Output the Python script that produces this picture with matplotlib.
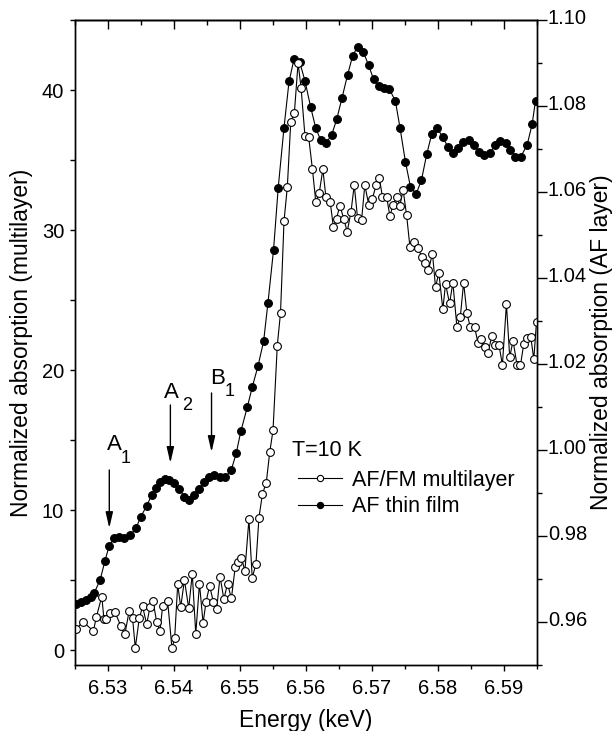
import matplotlib
matplotlib.use("Agg")
import matplotlib.pyplot as plt
import matplotlib.transforms as mtransforms
from matplotlib.ticker import MultipleLocator, FormatStrFormatter
from matplotlib.lines import Line2D

plt.rcParams['font.family'] = ['Liberation Sans', 'DejaVu Sans']

# AF thin film (right axis)
energy_film = [6.52510, 6.52586, 6.52662, 6.52738, 6.52790, 6.52881, 6.52954, 6.53018, 6.53091, 6.53170,
               6.53246, 6.53332, 6.53423, 6.53499, 6.53586, 6.53662, 6.53727, 6.53788, 6.53864, 6.53931,
               6.54007, 6.54083, 6.54159, 6.54235, 6.54311, 6.54387, 6.54463, 6.54539, 6.54615, 6.54691,
               6.54776, 6.54868, 6.54944, 6.55015, 6.55111, 6.55187, 6.55274, 6.55360, 6.55426, 6.55510,
               6.55581, 6.55669, 6.55745, 6.55821, 6.55905, 6.55989, 6.56072, 6.56151, 6.56227, 6.56308,
               6.56392, 6.56468, 6.56547, 6.56632, 6.56708, 6.56784, 6.56871, 6.56951, 6.57027, 6.57103,
               6.57179, 6.57266, 6.57357, 6.57429, 6.57510, 6.57586, 6.57672, 6.57753, 6.57833, 6.57909,
               6.57985, 6.58076, 6.58153, 6.58229, 6.58305, 6.58381, 6.58472, 6.58548, 6.58624, 6.58700,
               6.58787, 6.58874, 6.58950, 6.59030, 6.59102, 6.59178, 6.59259, 6.59354, 6.59430, 6.59482]
abs_film = [0.9643, 0.9647, 0.9651, 0.9659, 0.9667, 0.9698, 0.9742, 0.9777, 0.9795, 0.9797,
            0.9795, 0.9802, 0.9818, 0.9845, 0.9870, 0.9895, 0.9911, 0.9926, 0.9932, 0.9930,
            0.9923, 0.9909, 0.9891, 0.9884, 0.9895, 0.9909, 0.9926, 0.9938, 0.9942, 0.9938,
            0.9937, 0.9953, 0.9992, 1.0044, 1.0099, 1.0146, 1.0195, 1.0253, 1.0343, 1.0465,
            1.0610, 1.0750, 1.0857, 1.0909, 1.0903, 1.0857, 1.0798, 1.0748, 1.0720, 1.0714,
            1.0733, 1.0769, 1.0818, 1.0872, 1.0916, 1.0938, 1.0926, 1.0895, 1.0862, 1.0847,
            1.0842, 1.0839, 1.0812, 1.0748, 1.0670, 1.0612, 1.0595, 1.0628, 1.0688, 1.0735,
            1.0748, 1.0729, 1.0704, 1.0690, 1.0702, 1.0717, 1.0721, 1.0709, 1.0694, 1.0686,
            1.0691, 1.0709, 1.0719, 1.0713, 1.0698, 1.0682, 1.0682, 1.0709, 1.0757, 1.0812]

# AF/FM multilayer (left axis)
energy_multi = [6.52521, 6.52620, 6.52779, 6.52825, 6.52906, 6.52939, 6.52977, 6.53027, 6.53103, 6.53195,
                6.53256, 6.53322, 6.53373, 6.53414, 6.53475, 6.53525, 6.53586, 6.53636, 6.53684, 6.53738,
                6.53788, 6.53829, 6.53905, 6.53970, 6.54011, 6.54057, 6.54103, 6.54159, 6.54224, 6.54278,
                6.54331, 6.54387, 6.54442, 6.54487, 6.54541, 6.54597, 6.54647, 6.54699, 6.54757, 6.54813,
                6.54871, 6.54929, 6.54977, 6.55023, 6.55076, 6.55137, 6.55187, 6.55243, 6.55289, 6.55342,
                6.55400, 6.55452, 6.55502, 6.55567, 6.55616, 6.55669, 6.55719, 6.55771, 6.55826, 6.55882,
                6.55928, 6.55986, 6.56042, 6.56100, 6.56151, 6.56202, 6.56258, 6.56303, 6.56369, 6.56418,
                6.56465, 6.56516, 6.56574, 6.56627, 6.56684, 6.56734, 6.56784, 6.56845, 6.56894, 6.56954,
                6.57008, 6.57068, 6.57114, 6.57160, 6.57225, 6.57274, 6.57322, 6.57377, 6.57426, 6.57475,
                6.57528, 6.57578, 6.57646, 6.57697, 6.57760, 6.57809, 6.57859, 6.57920, 6.57966, 6.58016,
                6.58077, 6.58118, 6.58179, 6.58229, 6.58290, 6.58341, 6.58392, 6.58442, 6.58494, 6.58559,
                6.58609, 6.58661, 6.58711, 6.58761, 6.58822, 6.58874, 6.58928, 6.58980, 6.59041, 6.59091,
                6.59141, 6.59202, 6.59254, 6.59304, 6.59354, 6.59411, 6.59456, 6.59497]
abs_multi = [1.50, 2.02, 1.36, 2.38, 3.82, 2.21, 2.19, 2.64, 2.74, 1.71,
             1.12, 2.82, 2.26, 0.16, 2.26, 3.11, 1.84, 3.04, 3.48, 2.00,
             1.36, 3.14, 3.48, 0.12, 0.84, 4.68, 3.07, 5.00, 2.98, 5.46,
             1.14, 4.74, 1.93, 3.45, 4.59, 3.45, 2.91, 5.25, 3.64, 4.74,
             3.68, 5.93, 6.29, 6.59, 5.66, 9.34, 5.16, 6.14, 9.46, 11.14,
             11.96, 14.12, 15.68, 21.75, 24.09, 30.64, 33.06, 37.70, 38.36, 41.93,
             40.14, 36.75, 36.66, 34.34, 32.00, 32.62, 34.34, 32.38, 32.02, 30.18,
             30.82, 31.75, 30.81, 29.88, 31.29, 33.21, 30.84, 30.71, 33.21, 31.79,
             32.24, 33.24, 33.75, 32.38, 32.36, 31.00, 31.79, 32.36, 31.75, 32.86,
             31.04, 28.79, 29.16, 28.71, 28.07, 27.62, 27.14, 28.32, 25.91, 26.95,
             24.34, 26.14, 24.76, 26.24, 23.09, 23.76, 26.24, 24.05, 23.05, 23.05,
             21.95, 22.19, 21.66, 21.24, 22.45, 21.79, 21.79, 20.36, 24.71, 20.91,
             22.09, 20.36, 20.36, 21.86, 22.26, 22.34, 20.76, 23.45]

series_labels = ["AF/FM multilayer", "AF thin film"]
legend_title = "T=10 K"
x_label = "Energy (keV)"
y_left_label = "Normalized absorption (multilayer)"
y_right_label = "Normalized absorption (AF layer)"

# annotations: (main letter, subscript, arrow x, arrow top y, arrow tip y, letter x, letter y, sub x, sub y)
annot = [
    ("A", "1", 6.53020, 12.86, 8.71, 6.53096, 14.71, 6.53266, 13.71),
    ("A", "2", 6.53946, 17.50, 13.36, 6.53958, 18.36, 6.54205, 17.43),
    ("B", "1", 6.54570, 18.36, 14.14, 6.54665, 19.36, 6.54840, 18.46),
]

fig = plt.figure(figsize=(6.16, 7.31), dpi=100)
ax = fig.add_axes([75/616, 66/731, 461.7/616, 645/731])
ax2 = ax.twinx()

ms = 5.6
mew = 0.8
ax2.plot(energy_film, abs_film, color='black', lw=0.8, marker='o', ms=ms,
         mfc='black', mec='black', mew=mew, label=series_labels[1], clip_on=True)
ax.plot(energy_multi, abs_multi, color='black', lw=0.8, marker='o', ms=ms,
        mfc='white', mec='black', mew=mew, label=series_labels[0], clip_on=True)

ax.set_zorder(ax2.get_zorder() + 1)
ax.patch.set_visible(False)

ax.set_xlim(6.525, 6.595)
ax.set_ylim(-1.07, 45.0)
ax2.set_ylim(0.95, 1.10)

fs_tick = 14.5
fs_label = 16.5

ax.xaxis.set_major_locator(MultipleLocator(0.01))
ax.xaxis.set_minor_locator(MultipleLocator(0.005))
ax.xaxis.set_major_formatter(FormatStrFormatter('%.2f'))
ax.yaxis.set_major_locator(MultipleLocator(10))
ax.yaxis.set_minor_locator(MultipleLocator(5))
ax2.yaxis.set_major_locator(MultipleLocator(0.02))
ax2.yaxis.set_minor_locator(MultipleLocator(0.01))
ax2.yaxis.set_major_formatter(FormatStrFormatter('%.2f'))

ax.tick_params(axis='x', which='major', direction='out', length=4.3, width=1, labelsize=fs_tick, pad=5.5)
ax.tick_params(axis='x', which='minor', direction='out', length=3.1, width=1)
ax.tick_params(axis='y', which='major', direction='out', length=3.3, width=1, labelsize=fs_tick, pad=4.5,
               left=True, right=False)
ax.tick_params(axis='y', which='minor', direction='out', length=3.3, width=1, left=True, right=False)
ax2.tick_params(axis='y', which='major', direction='out', length=7, width=1, labelsize=fs_tick, pad=1)
ax2.tick_params(axis='y', which='minor', direction='out', length=3.6, width=1)

top = ax.secondary_xaxis('top')
top.xaxis.set_major_locator(MultipleLocator(0.01))
top.xaxis.set_minor_locator(MultipleLocator(0.005))
top.tick_params(axis='x', which='major', direction='in', length=6.7, width=1, labeltop=False)
top.tick_params(axis='x', which='minor', direction='in', length=3.6, width=1)
top.spines['top'].set_linewidth(1.0)

for a in (ax, ax2):
    for s in a.spines.values():
        s.set_linewidth(1.0)

# right-axis tick labels sit slightly above their ticks (as in the reference)
up = mtransforms.ScaledTranslation(0, 4/100, fig.dpi_scale_trans)
for lbl in ax2.get_yticklabels():
    lbl.set_transform(lbl.get_transform() + up)

ax.set_xlabel(x_label, fontsize=fs_label, labelpad=8)
ax.set_ylabel(y_left_label, fontsize=fs_label, labelpad=6)
ax2.set_ylabel(y_right_label, fontsize=fs_label, labelpad=2)

for letter, sub, xa, y0, y1, xl, yl, xs, ys in annot:
    ax.annotate("", xy=(xa, y1), xytext=(xa, y0),
                arrowprops=dict(arrowstyle="-|>,head_length=0.95,head_width=0.22",
                                mutation_scale=10, color='black', lw=1.0,
                                shrinkA=0, shrinkB=0))
    ax.text(xl, yl, letter, fontsize=16, ha='center', va='center')
    ax.text(xs, ys, sub, fontsize=13, ha='center', va='center')

fig.text(291.7/616, 1 - 450/731, legend_title, fontsize=15.5, ha='left', va='center')
handles = [
    Line2D([], [], color='black', lw=0.8, marker='o', ms=4.5, mfc='white', mec='black', mew=0.8),
    Line2D([], [], color='black', lw=0.8, marker='o', ms=4.5, mfc='black', mec='black', mew=0.8),
]
leg = ax.legend(handles, series_labels, loc='upper left',
                bbox_to_anchor=(297.7/616, 1 - 470/731), bbox_transform=fig.transFigure,
                frameon=False, fontsize=15.5, handlelength=2.05,
                handletextpad=0.45, labelspacing=0.25, borderpad=0, borderaxespad=0,
                numpoints=1)

fig.savefig("out.png", dpi=100)
